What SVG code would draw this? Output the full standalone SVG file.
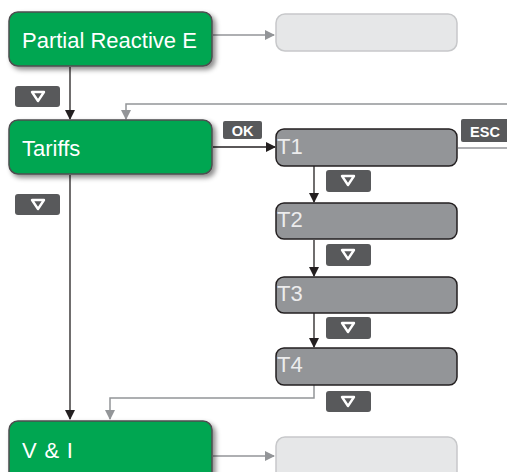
<svg xmlns="http://www.w3.org/2000/svg" width="507" height="472" viewBox="0 0 507 472">
<style>
.green{fill:#00a651;stroke:#4d4d4f;stroke-width:1.5}
.tbox{fill:#939598;stroke:#231f20;stroke-width:1.5}
.lbox{fill:#e6e7e8;stroke:#c7c8ca;stroke-width:1.5}
.badge{fill:#58595b}
.tri{fill:none;stroke:#fff;stroke-width:2.4;stroke-linejoin:round}
.lbl{font-family:"Liberation Sans",Arial,sans-serif;font-size:22px;fill:#fff}
.tl{font-family:"Liberation Sans",Arial,sans-serif;font-size:22px;fill:#ececed}
.btxt{font-family:"Liberation Sans",Arial,sans-serif;font-size:14.5px;font-weight:bold;fill:#fff}
.blk{fill:none;stroke:#231f20;stroke-width:1.3}
.gry{fill:none;stroke:#939598;stroke-width:1.5}
</style>
<defs>
<filter id="sh" x="-10%" y="-20%" width="125%" height="150%">
<feDropShadow dx="3" dy="3" stdDeviation="2.5" flood-color="#000" flood-opacity="0.45"/>
</filter>
<marker id="ab" markerWidth="10" markerHeight="10" refX="9" refY="5" orient="auto" markerUnits="userSpaceOnUse">
<path d="M0,0 L10,5 L0,10 z" fill="#231f20"/>
</marker>
<marker id="ag" markerWidth="10" markerHeight="10" refX="9" refY="5" orient="auto" markerUnits="userSpaceOnUse">
<path d="M0,0 L10,5 L0,10 z" fill="#939598"/>
</marker>
</defs>
<g id="connectors">
<path class="gry" d="M213,35 H274" marker-end="url(#ag)"/>
<path class="blk" d="M70,67 V119" marker-end="url(#ab)"/>
<path class="gry" d="M507,104 H126 V119" marker-end="url(#ag)"/>
<path class="blk" d="M213,147 H275" marker-end="url(#ab)"/>
<path class="gry" d="M458,148 H507"/>
<path class="blk" d="M314,166 V202" marker-end="url(#ab)"/>
<path class="blk" d="M314,240 V276" marker-end="url(#ab)"/>
<path class="blk" d="M314,313 V347" marker-end="url(#ab)"/>
<path class="gry" d="M314,385 V398 H110 V419" marker-end="url(#ag)"/>
<path class="blk" d="M70,175 V419" marker-end="url(#ab)"/>
<path class="gry" d="M213,456 H274" marker-end="url(#ag)"/>
</g>
<g id="node-partial">
<rect class="green" x="9" y="12" width="203" height="54" rx="9" filter="url(#sh)"/>
<text class="lbl" x="22" y="48">Partial Reactive E</text>
</g>
<g id="node-empty1"><rect class="lbox" x="276" y="14" width="181" height="37" rx="9"/></g>
<g id="badge1"><rect class="badge" x="15" y="86" width="45" height="21" rx="3"/><polygon class="tri" points="32,92 44,92 38,101"/></g>
<g id="node-tariffs">
<rect class="green" x="9" y="120" width="203" height="54" rx="9" filter="url(#sh)"/>
<text class="lbl" x="22" y="156">Tariffs</text>
</g>
<g id="badge2"><rect class="badge" x="15" y="194" width="45" height="21" rx="3"/><polygon class="tri" points="32,200 44,200 38,209"/></g>
<g id="badge-ok"><rect class="badge" x="223" y="121" width="39" height="18" rx="2"/><text class="btxt" x="242.5" y="135.5" text-anchor="middle">OK</text></g>
<g id="badge-esc"><rect class="badge" x="461" y="119" width="50" height="23" rx="2"/><text class="btxt" x="485" y="136.5" text-anchor="middle">ESC</text></g>
<g id="node-t1"><rect class="tbox" x="276" y="129" width="181" height="37" rx="8"/><text class="tl" x="277" y="154">T1</text></g>
<g id="badge3"><rect class="badge" x="326" y="170" width="45" height="22" rx="3"/><polygon class="tri" points="342,176 354,176 348,185"/></g>
<g id="node-t2"><rect class="tbox" x="276" y="203" width="181" height="36" rx="8"/><text class="tl" x="277" y="227">T2</text></g>
<g id="badge4"><rect class="badge" x="326" y="244" width="45" height="22" rx="3"/><polygon class="tri" points="342,250 354,250 348,259"/></g>
<g id="node-t3"><rect class="tbox" x="276" y="277" width="181" height="36" rx="8"/><text class="tl" x="277" y="301">T3</text></g>
<g id="badge5"><rect class="badge" x="326" y="317" width="45" height="22" rx="3"/><polygon class="tri" points="342,323 354,323 348,332"/></g>
<g id="node-t4"><rect class="tbox" x="276" y="348" width="181" height="37" rx="8"/><text class="tl" x="277" y="372">T4</text></g>
<g id="badge6"><rect class="badge" x="326" y="391" width="45" height="21" rx="3"/><polygon class="tri" points="342,397 354,397 348,406"/></g>
<g id="node-vi">
<rect class="green" x="9" y="421" width="203" height="60" rx="9" filter="url(#sh)"/>
<text class="lbl" x="22" y="458" letter-spacing="0.8">V &amp; I</text>
</g>
<g id="node-empty2"><rect class="lbox" x="276" y="437" width="181" height="45" rx="9"/></g>
</svg>
